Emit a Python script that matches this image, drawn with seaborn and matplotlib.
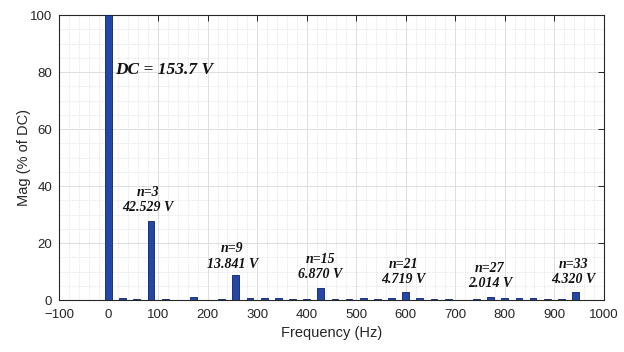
import matplotlib
matplotlib.use("Agg")
import matplotlib.pyplot as plt
from matplotlib.ticker import MultipleLocator
import numpy as np
import pandas as pd
import seaborn as sns

# Harmonic spectrum of the DC-link voltage (fundamental 28.57 Hz)
freq_hz = [0.0, 28.6, 57.1, 85.7, 114.3, 142.9, 171.4, 200.0, 228.6, 257.1,
           285.7, 314.3, 342.9, 371.4, 400.0, 428.6, 457.1, 485.7, 514.3, 542.9,
           571.4, 600.0, 628.6, 657.1, 685.7, 714.3, 742.9, 771.4, 800.0, 828.6,
           857.1, 885.7, 914.3, 942.9, 971.4]
mag_pct = [100.0, 0.7, 0.6, 27.67, 0.3, 0.1, 1.0, 0.05, 0.3, 9.0,
           0.9, 0.8, 0.8, 0.4, 0.5, 4.47, 0.3, 0.5, 0.7, 0.6,
           0.9, 3.07, 0.9, 0.5, 0.5, 0.2, 0.5, 1.31, 0.9, 0.8,
           0.8, 0.6, 0.6, 2.81, 0.2]

dc_volts = 153.7
harm_order = [3, 9, 15, 21, 27, 33]
harm_volts = [42.529, 13.841, 6.870, 4.719, 2.014, 4.320]
# label anchor (x in Hz, y of "n=" line, y of voltage line)
label_x = [80, 250, 428, 595, 770, 938]
label_y_n = [37.7, 18.2, 14.4, 12.7, 11.2, 12.7]
label_y_v = [32.6, 12.6, 8.9, 7.4, 6.0, 7.4]

# annotated harmonics take their height from the stated voltage
mag_pct = list(mag_pct)
for n, v in zip(harm_order, harm_volts):
    mag_pct[n] = v / dc_volts * 100.0

df = pd.DataFrame({"freq": freq_hz, "mag": mag_pct})

sns.set_theme(style="white")
plt.rcParams["font.family"] = ["Liberation Sans", "DejaVu Sans"]

fig = plt.figure(figsize=(6.24, 3.52), dpi=100)
ax = fig.add_axes([0.0946, 0.147, 0.873, 0.810])

sns.barplot(data=df, x="freq", y="mag", native_scale=True, width=0.48,
            color="#2447a6", saturation=1, edgecolor="#0b1f66", linewidth=0.6,
            ax=ax, zorder=3)

ax.set_xlim(-100, 1000)
ax.set_ylim(0, 100)
ax.xaxis.set_major_locator(MultipleLocator(100))
ax.xaxis.set_minor_locator(MultipleLocator(20))
ax.yaxis.set_major_locator(MultipleLocator(20))
ax.yaxis.set_minor_locator(MultipleLocator(5))

ax.set_axisbelow(True)
ax.grid(which="major", color="#dedede", linewidth=0.7, linestyle="-")
ax.grid(which="minor", color="#e2e2e2", linewidth=0.6, linestyle=(0, (1.5, 1.5)))

for s in ax.spines.values():
    s.set_visible(True)
    s.set_color("#262626")
    s.set_linewidth(0.8)

ax.tick_params(which="major", direction="in", length=4, width=0.7,
               top=True, right=True, colors="#262626", labelsize=9.5,
               labelcolor="#262626")
ax.tick_params(axis="x", which="major", pad=6)
ax.tick_params(axis="y", which="major", pad=5)
ax.tick_params(which="minor", length=0, top=True, right=True)

ax.set_xlabel("Frequency (Hz)", fontsize=10.5, color="#262626", labelpad=4)
ax.set_ylabel("Mag (% of DC)", fontsize=10.5, color="#262626", labelpad=-1)

serif = ["Liberation Serif", "DejaVu Serif"]
ax.text(14, 80.8, f"DC = {dc_volts} V", family=serif, fontsize=12.5,
        fontweight="bold", fontstyle="italic", va="center", ha="left",
        color="#111111", zorder=5)

for n, v, x, yn, yv in zip(harm_order, harm_volts, label_x, label_y_n, label_y_v):
    ax.text(x, yn, f"n={n}", family=serif, fontsize=10, fontweight="bold",
            fontstyle="italic", ha="center", va="center", color="#111111", zorder=5)
    ax.text(x, yv, f"{v:.3f} V", family=serif, fontsize=10, fontweight="bold",
            fontstyle="italic", ha="center", va="center", color="#111111", zorder=5)

fig.savefig("out.png", dpi=100)
